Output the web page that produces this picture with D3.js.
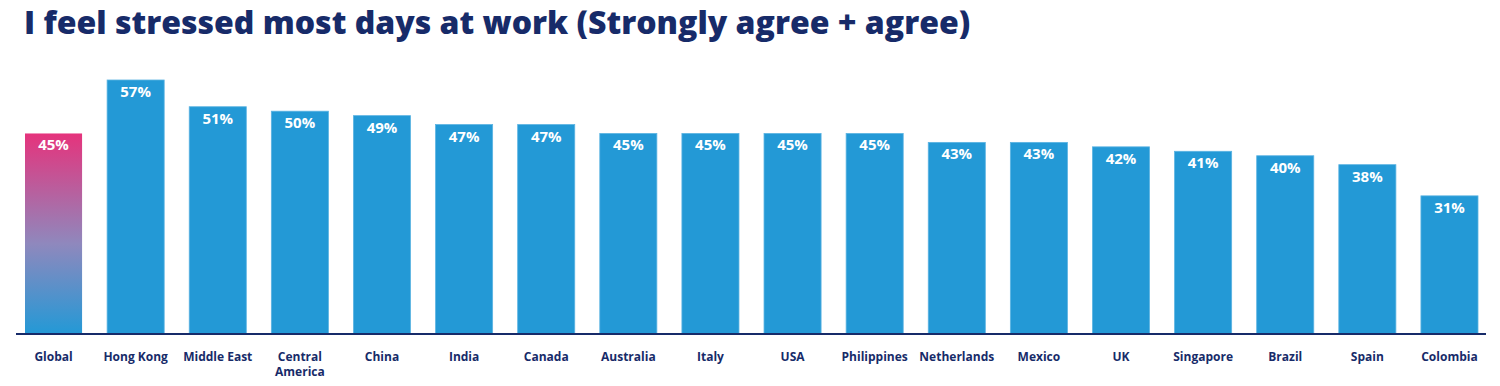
<!DOCTYPE html>
<html>
<head>
<meta charset="utf-8">
<script src="https://cdn.jsdelivr.net/npm/d3@7"></script>
<style>
  body { margin: 0; background: #fff; }
  text { font-family: "Open Sans", "Noto Sans", sans-serif; }
</style>
</head>
<body>
<div id="chart"></div>
<script>
const categories = ["Global", "Hong Kong", "Middle East", "Central America", "China", "India",
  "Canada", "Australia", "Italy", "USA", "Philippines", "Netherlands", "Mexico", "UK",
  "Singapore", "Brazil", "Spain", "Colombia"];
const values = [45, 57, 51, 50, 49, 47, 47, 45, 45, 45, 45, 43, 43, 42, 41, 40, 38, 31];
const labelLines = {"Central America": ["Central", "America"]};

const width = 1500, height = 386;
const navy = "#172b69";
const blue = "#2399d6";

const svg = d3.select("#chart")
  .append("svg")
  .attr("width", width)
  .attr("height", height);

const defs = svg.append("defs");
const grad = defs.append("linearGradient")
  .attr("id", "globalGrad")
  .attr("x1", 0).attr("y1", 0).attr("x2", 0).attr("y2", 1);
grad.append("stop").attr("offset", "0%").attr("stop-color", "#e5337c");
grad.append("stop").attr("offset", "55%").attr("stop-color", "#8f88bd");
grad.append("stop").attr("offset", "100%").attr("stop-color", blue);

svg.append("text")
  .attr("x", 24)
  .attr("y", 34)
  .attr("fill", navy)
  .attr("font-size", 32)
  .attr("font-weight", 800)
  .text("I feel stressed most days at work (Strongly agree + agree)");

const xScale = d3.scaleBand()
  .domain(categories)
  .range([25, 1478])
  .paddingInner(0.305)
  .paddingOuter(0);

const yScale = d3.scaleLinear()
  .domain([0, 57])
  .range([334, 80]);

svg.selectAll("rect.bar")
  .data(categories)
  .join("rect")
  .attr("class", "bar")
  .attr("x", d => xScale(d))
  .attr("width", xScale.bandwidth())
  .attr("y", (d, i) => yScale(values[i]))
  .attr("height", (d, i) => yScale(0) - yScale(values[i]))
  .attr("fill", (d, i) => i === 0 ? "url(#globalGrad)" : blue)
  .attr("stroke", (d, i) => i === 0 ? "none" : "#5bb3e2")
  .attr("stroke-width", 0.8);

svg.selectAll("text.val")
  .data(categories)
  .join("text")
  .attr("class", "val")
  .attr("x", d => xScale(d) + xScale.bandwidth() / 2)
  .attr("y", (d, i) => yScale(values[i]) + 17)
  .attr("text-anchor", "middle")
  .attr("fill", "#fff")
  .attr("font-size", 15)
  .attr("font-weight", 700)
  .text((d, i) => values[i] + "%");

// baseline axis
const xAxis = d3.axisBottom(xScale).tickSize(0).tickSizeOuter(0).tickFormat("");
const axisG = svg.append("g")
  .attr("transform", `translate(0, ${yScale(0)})`)
  .call(xAxis);
axisG.select(".domain")
  .attr("stroke", navy)
  .attr("stroke-width", 2)
  .attr("d", "M16,0H1486");

svg.selectAll("text.cat")
  .data(categories)
  .join("text")
  .attr("class", "cat")
  .attr("x", d => xScale(d) + xScale.bandwidth() / 2)
  .attr("y", 361)
  .attr("text-anchor", "middle")
  .attr("fill", navy)
  .attr("font-size", 12)
  .attr("font-weight", 700)
  .selectAll("tspan")
  .data(d => labelLines[d] || [d])
  .join("tspan")
  .attr("x", function () { return d3.select(this.parentNode).attr("x"); })
  .attr("dy", (d, i) => i === 0 ? 0 : 15)
  .text(d => d);
</script>
</body>
</html>
